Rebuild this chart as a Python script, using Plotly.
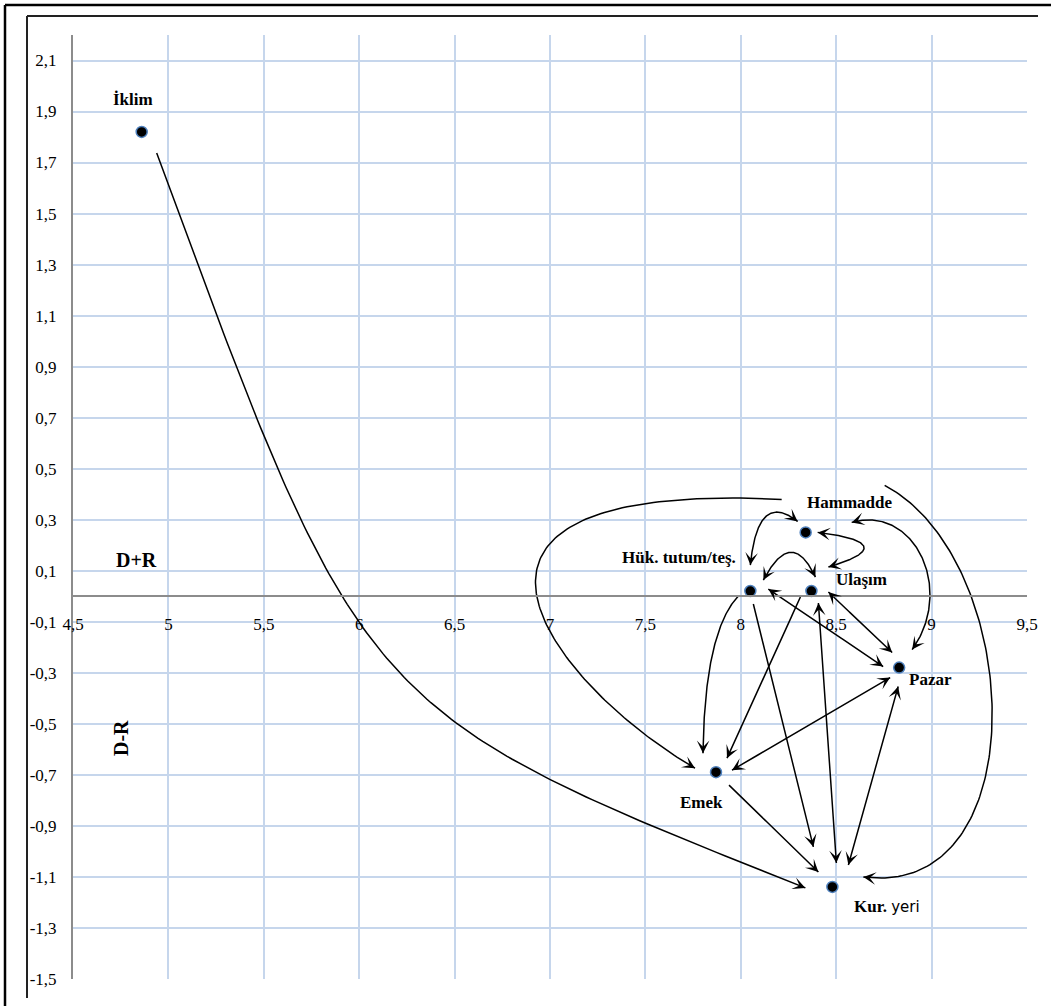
import numpy as np
import plotly.graph_objects as go

# ---------------- data ----------------
factors = ["İklim", "Hammadde", "Hük. tutum/teş.", "Ulaşım", "Pazar", "Emek", "Kur. yeri"]
d_plus_r = [4.86, 8.34, 8.05, 8.37, 8.83, 7.87, 8.48]
d_minus_r = [1.82, 0.25, 0.02, 0.02, -0.28, -0.69, -1.14]

x_tick_vals = [4.5, 5, 5.5, 6, 6.5, 7, 7.5, 8, 8.5, 9, 9.5]
x_tick_text = ["4,5", "5", "5,5", "6", "6,5", "7", "7,5", "8", "8,5", "9", "9,5"]
y_tick_vals = [2.1, 1.9, 1.7, 1.5, 1.3, 1.1, 0.9, 0.7, 0.5, 0.3, 0.1,
               -0.1, -0.3, -0.5, -0.7, -0.9, -1.1, -1.3, -1.5]
y_tick_text = ["2,1", "1,9", "1,7", "1,5", "1,3", "1,1", "0,9", "0,7", "0,5", "0,3", "0,1",
               "-0,1", "-0,3", "-0,5", "-0,7", "-0,9", "-1,1", "-1,3", "-1,5"]

# influence relations (source, target, arrow ends)
edge_src = ["İklim", "Hammadde", "Hammadde", "Hammadde", "Hük. tutum/teş.", "Hammadde", "Hammadde",
            "Hük. tutum/teş.", "Hük. tutum/teş.", "Ulaşım", "Ulaşım", "Hük. tutum/teş.", "Ulaşım",
            "Emek", "Pazar", "Emek"]
edge_tgt = ["Kur. yeri", "Emek", "Kur. yeri", "Hük. tutum/teş.", "Ulaşım", "Ulaşım", "Pazar",
            "Emek", "Pazar", "Pazar", "Emek", "Kur. yeri", "Kur. yeri",
            "Pazar", "Kur. yeri", "Kur. yeri"]
edge_dir = ["->", "->", "->", "<->", "<->", "<->", "<->",
            "->", "<->", "<->", "->", "->", "<->",
            "<->", "<->", "->"]

# ---------------- layout geometry ----------------
W, H = 1051, 1006
ML, MR, MT, MB = 73, 24, 35, 27
X0, X1 = 4.5, 9.5
Y0, Y1 = -1.5, 2.2
PW, PH = W - ML - MR, H - MT - MB
kx, ky = PW / (X1 - X0), PH / (Y1 - Y0)


def to_px(x, y):
    return np.array([ML + (x - X0) * kx, MT + (Y1 - y) * ky])


def to_data(p):
    return X0 + (p[0] - ML) / kx, Y1 - (p[1] - MT) / ky


# connector styling: port offsets (px, from node centre) and bezier handle offsets (px)
edge_style = [
    dict(ps=(15, 21), pe=(-27, 1), c1=(205, 559), c2=(-443, -176)),
    dict(ps=(-24, -33), pe=(-21, -4), c1=(-402, -20), c2=(-135, -78)),
    dict(ps=(79, -47), pe=(31, -10), c1=(140, 74), c2=(175, 23)),
    dict(ps=(-8, -11), pe=(0, -26), c1=(-27, -21), c2=(5, -50)),
    dict(ps=(13, -11), pe=(4, -14), c1=(19, -36), c2=(-16, -34)),
    dict(ps=(12, 0), pe=(17, -24), c1=(58, 7), c2=(51, -15)),
    dict(ps=(46, -10), pe=(13, -18), c1=(63, -18), c2=(43, -60)),
    dict(ps=(-12, 5), pe=(-13, -19), c1=(-22, 23), c2=(1, -82)),
    dict(ps=(18, -2), pe=(-16, -1)),
    dict(ps=(17, 1), pe=(-7, -15)),
    dict(ps=(-11, 6), pe=(11, -14)),
    dict(ps=(3, 13), pe=(-19, -40)),
    dict(ps=(7, 12), pe=(4, -24)),
    dict(ps=(16, -2), pe=(-9, 10)),
    dict(ps=(-1, 19), pe=(16, -22)),
    dict(ps=(13, 13), pe=(-14, -15)),
]

label_shift = {
    "İklim": (-9, 32), "Hammadde": (44, 30), "Hük. tutum/teş.": (-71, 34),
    "Ulaşım": (50, 12), "Pazar": (31, -12), "Emek": (-15, -30), "Kur. yeri": (55, -20),
}

SERIF = "Liberation Serif"
node_px = {f: to_px(x, y) for f, x, y in zip(factors, d_plus_r, d_minus_r)}

fig = go.Figure()
annotations = []


def arrow(tip, back):
    tx, ty = to_data(tip)
    bx, by = to_data(back)
    annotations.append(dict(x=tx, y=ty, ax=bx, ay=by, xref="x", yref="y", axref="x", ayref="y",
                            text="", showarrow=True, arrowhead=3, arrowsize=1.5, arrowwidth=1.4,
                            arrowcolor="black", standoff=0, startstandoff=0))


for src, tgt, d, st in zip(edge_src, edge_tgt, edge_dir, edge_style):
    p0 = node_px[src] + np.array(st["ps"], float)
    p3 = node_px[tgt] + np.array(st["pe"], float)
    if "c1" in st:
        p1 = p0 + np.array(st["c1"], float)
        p2 = p3 + np.array(st["c2"], float)
    else:
        p1, p2 = p0.copy(), p3.copy()
    t = np.linspace(0, 1, 140)[:, None]
    pts = ((1 - t) ** 3) * p0 + 3 * ((1 - t) ** 2) * t * p1 + 3 * (1 - t) * t ** 2 * p2 + t ** 3 * p3
    dx, dy = zip(*[to_data(p) for p in pts])
    fig.add_trace(go.Scatter(x=dx, y=dy, mode="lines", line=dict(color="black", width=1.5),
                             hoverinfo="skip", showlegend=False))
    # arrowheads
    ue = p3 - (p2 if np.linalg.norm(p3 - p2) > 1e-6 else p0)
    ue = ue / np.linalg.norm(ue)
    us = (p1 if np.linalg.norm(p1 - p0) > 1e-6 else p3) - p0
    us = us / np.linalg.norm(us)
    arrow(p3, p3 - 8 * ue)
    if d == "<->":
        arrow(p0, p0 + 8 * us)

fig.add_trace(go.Scatter(x=d_plus_r, y=d_minus_r, mode="markers",
                         marker=dict(size=11, color="black", line=dict(color="#4f81bd", width=1.5)),
                         hoverinfo="skip", showlegend=False))

for f, x, y in zip(factors, d_plus_r, d_minus_r):
    if f == "Kur. yeri":
        txt = "<b>Kur.</b> <span style='font-family:DejaVu Sans;font-size:15px'>yeri</span>"
    else:
        txt = "<b>%s</b>" % f
    xs, ys = label_shift[f]
    annotations.append(dict(x=x, y=y, xref="x", yref="y", text=txt, showarrow=False,
                            xanchor="center", yanchor="middle",
                            xshift=xs, yshift=ys, font=dict(family=SERIF, size=17, color="black")))

# axis titles
annotations.append(dict(x=(136 - ML) / PW, y=(H - MB - 560) / PH, xref="paper", yref="paper",
                        xanchor="center", yanchor="middle",
                        text="<b>D+R</b>", showarrow=False, font=dict(family=SERIF, size=20, color="black")))
annotations.append(dict(x=(121 - ML) / PW, y=(H - MB - 738) / PH, xref="paper", yref="paper",
                        xanchor="center", yanchor="middle",
                        text="<b>D-R</b>", showarrow=False, textangle=-90,
                        font=dict(family=SERIF, size=20, color="black")))


def hline(px0, px1, py, color, w):
    return dict(type="line", xref="paper", yref="paper", x0=(px0 - ML) / PW, x1=(px1 - ML) / PW,
                y0=(H - MB - py) / PH, y1=(H - MB - py) / PH, line=dict(color=color, width=w))


def vline(px, py0, py1, color, w):
    return dict(type="line", xref="paper", yref="paper", x0=(px - ML) / PW, x1=(px - ML) / PW,
                y0=(H - MB - py0) / PH, y1=(H - MB - py1) / PH, line=dict(color=color, width=w))


shapes = [
    hline(5, 1052, 5, "black", 2.5),
    vline(5, 5, 1008, "black", 2.5),
    hline(27, 1038, 16, "#222222", 2),
    vline(27, 16, 998, "#222222", 2),
]

grid_c = "#c6d6ec"
fig.update_layout(
    width=W, height=H, margin=dict(l=ML, r=MR, t=MT, b=MB),
    paper_bgcolor="white", plot_bgcolor="white",
    annotations=annotations, shapes=shapes, showlegend=False,
    xaxis=dict(range=[X0, X1], tickvals=x_tick_vals, ticktext=x_tick_text,
               showgrid=True, gridcolor=grid_c, gridwidth=1.5, zeroline=False,
               anchor="free", position=(0 - Y0) / (Y1 - Y0),
               showline=True, linecolor="#8c8c8c", linewidth=2, ticks="",
               ticklabelstandoff=12,
               tickfont=dict(family=SERIF, size=17, color="black")),
    yaxis=dict(range=[Y0 - 0.001, Y1], tickvals=y_tick_vals, ticktext=y_tick_text,
               showgrid=True, gridcolor=grid_c, gridwidth=1.5, zeroline=False,
               showline=True, linecolor="#8c8c8c", linewidth=2, ticks="",
               ticklabelstandoff=11,
               tickfont=dict(family=SERIF, size=17, color="black")),
)

fig.write_html("out.html", config={"displayModeBar": False},
               post_script="document.body.style.margin='0';document.body.style.overflow='hidden';")
